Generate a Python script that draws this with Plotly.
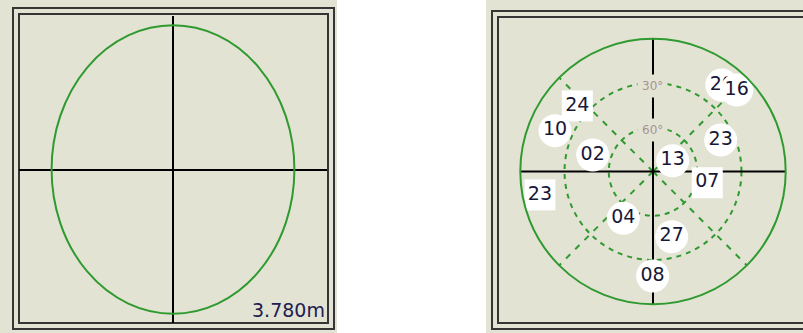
import plotly.graph_objects as go

W, H = 803, 333

# ---- left panel: horizontal position scatter ----
scale_label = "3.780m"
half_span_m = 3.780          # half width of the panel, metres
ellipse_semi_x_m = 2.98      # east-west semi axis, metres
ellipse_semi_y_m = 3.54      # north-south semi axis, metres

# ---- right panel: satellite sky plot ----
prn = ["20", "16", "24", "10", "02", "13", "23", "07", "23", "04", "27", "08"]
azimuth_deg = [38.5, 45.8, 310.9, 292.6, 285.3, 61.3, 65.1, 101.7, 258.3, 212.4, 164.0, 180.2]
elevation_deg = [15.1, 10.8, 22.1, 18.0, 47.6, 74.8, 39.4, 52.4, 11.7, 52.4, 44.0, 19.1]
badge = ["circle", "circle", "square", "circle", "circle", "circle",
         "circle", "square", "square", "circle", "circle", "circle"]
ring_elevations = [30, 60]
spoke_azimuths = [45, 135, 225, 315]

BEIGE = "#E3E3D4"
FRAME = "#353535"
GREEN = "#2f9a2f"
TEXT = "#171737"


def px(x):
    return x / W


def py(y):
    return 1 - y / H


fig = go.Figure()

# panel backgrounds and double frames
shapes = []
for x0, x1 in [(0, 337), (486, 803)]:
    shapes.append(dict(type="rect", xref="paper", yref="paper", layer="below",
                       x0=px(x0), x1=px(x1), y0=py(H), y1=py(0),
                       fillcolor=BEIGE, line=dict(width=0)))
frames = [
    (13, 334, 8, 329), (19, 328, 14, 323),       # left outer / inner
    (492, 830, 11, 329), (498, 830, 17, 323),    # right outer / inner
]
for x0, x1, y0, y1 in frames:
    shapes.append(dict(type="rect", xref="paper", yref="paper", layer="below",
                       x0=px(x0), x1=px(x1), y0=py(y1), y1=py(y0),
                       line=dict(color=FRAME, width=2)))

# position scatter ellipse
shapes.append(dict(type="circle", xref="x", yref="y",
                   x0=-ellipse_semi_x_m, x1=ellipse_semi_x_m,
                   y0=-ellipse_semi_y_m, y1=ellipse_semi_y_m,
                   line=dict(color=GREEN, width=2)))

# left axes: the zero lines form the cross
lx0, lx1, ly0, ly1 = 19, 327, 16, 323
y_half = half_span_m * (ly1 - ly0) / (lx1 - lx0)
axis_common = dict(showgrid=False, showticklabels=False, ticks="", showline=False,
                   zeroline=True, zerolinecolor="black", zerolinewidth=2, fixedrange=True)
fig.update_layout(
    xaxis=dict(domain=[px(lx0), px(lx1)], range=[-half_span_m, half_span_m], **axis_common),
    yaxis=dict(domain=[py(ly1), py(ly0)], range=[-y_half, y_half], **axis_common),
)
# invisible anchor trace so the cartesian axes are drawn
fig.add_trace(go.Scatter(x=[0], y=[0], mode="markers", marker=dict(opacity=0),
                         hoverinfo="skip", showlegend=False))

# sky plot geometry
cx, cy, R = 653.0, 171.5, 132.7
fig.update_layout(polar=dict(
    domain=dict(x=[px(cx - R), px(cx + R)], y=[py(cy + R), py(cy - R)]),
    bgcolor=BEIGE,
    radialaxis=dict(range=[0, 90], tickvals=[90 - e for e in ring_elevations],
                    showticklabels=False, ticks="", showline=False,
                    gridcolor=GREEN, gridwidth=2, griddash="5px,5px"),
    angularaxis=dict(rotation=90, direction="clockwise", tickvals=spoke_azimuths,
                     showticklabels=False, ticks="", gridcolor=GREEN, gridwidth=2,
                     griddash="6px,7px", showline=True, linecolor=GREEN, linewidth=2),
))

# north-south and east-west cross
for a, b in [(0, 180), (90, 270)]:
    fig.add_trace(go.Scatterpolar(r=[90, 90], theta=[a, b], mode="lines",
                                  line=dict(color="black", width=2),
                                  hoverinfo="skip", showlegend=False))

# satellites, one trace each so later badges cover earlier ones
for name, az, el, kind in zip(prn, azimuth_deg, elevation_deg, badge):
    fig.add_trace(go.Scatterpolar(
        r=[90 - el], theta=[az], mode="markers+text",
        marker=dict(symbol=kind, size=33 if kind == "circle" else 31,
                    color="white", line=dict(width=0)),
        text=[name], textposition="middle center",
        textfont=dict(family="DejaVu Sans", size=19, color=TEXT),
        hoverinfo="skip", showlegend=False))

annotations = []
# elevation ring labels on the north spoke
for e in ring_elevations:
    r_px = R * (90 - e) / 90
    annotations.append(dict(xref="paper", yref="paper", x=px(cx - 1), y=py(cy - r_px + 3),
                            text=f"{e}°", showarrow=False, bgcolor=BEIGE, borderpad=4,
                            font=dict(family="DejaVu Sans", size=12, color="#a39494"),
                            xanchor="center", yanchor="middle"))
# scale label
annotations.append(dict(xref="paper", yref="paper", x=px(327), y=py(323),
                        text=scale_label, showarrow=False,
                        font=dict(family="DejaVu Sans", size=19, color="#202050"),
                        xanchor="right", yanchor="bottom"))

fig.update_layout(
    width=W, height=H, margin=dict(l=0, r=0, t=0, b=0),
    paper_bgcolor="white", plot_bgcolor="rgba(0,0,0,0)",
    shapes=shapes, annotations=annotations, showlegend=False, hovermode=False,
)

fig.write_html("out.html", config={"displayModeBar": False})
